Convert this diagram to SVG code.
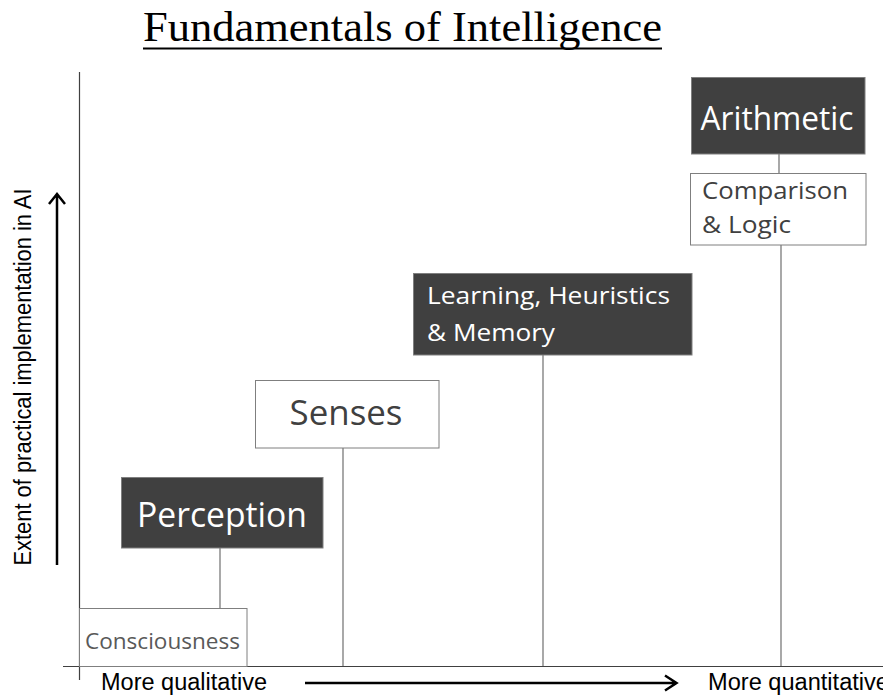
<svg xmlns="http://www.w3.org/2000/svg" width="883" height="700" viewBox="0 0 883 700">
<style>
.dark{fill:#404040;stroke:#7f7f7f;stroke-width:1}
.light{fill:#ffffff;stroke:#7f7f7f;stroke-width:1}
.conn{stroke:#6f6f6f;stroke-width:1.2;fill:none}
.axis{stroke:#404040;stroke-width:1.2;fill:none}
.arrow{stroke:#000;stroke-width:2.5;fill:none}
.wt{font-family:"Open Sans","DejaVu Sans",sans-serif;fill:#ffffff}
.gt{font-family:"Open Sans","DejaVu Sans",sans-serif;fill:#404040}
.lab{font-family:"Liberation Sans",Arial,sans-serif;font-size:23px;fill:#000}
</style>
<rect width="883" height="700" fill="#ffffff"/>
<g id="title">
<text x="143" y="41" font-family="Liberation Serif,'Times New Roman',serif" font-size="42" textLength="519" lengthAdjust="spacingAndGlyphs" fill="#000">Fundamentals of Intelligence</text>
<rect x="143" y="47.5" width="519" height="2" fill="#000"/>
</g>
<g id="connectors">
<line class="axis" x1="79.5" y1="72" x2="79.5" y2="680"/>
<line class="axis" x1="63" y1="666.5" x2="883" y2="666.5"/>
<line class="conn" x1="220" y1="548" x2="220" y2="609"/>
<line class="conn" x1="343" y1="448" x2="343" y2="666"/>
<line class="conn" x1="543" y1="355" x2="543" y2="666"/>
<line class="conn" x1="779" y1="154" x2="779" y2="173"/>
<line class="conn" x1="781" y1="245" x2="781" y2="666"/>
<path class="arrow" d="M57 565 L57 194 M49 204 L57 194 L65 204"/>
<path class="arrow" d="M305 683 L676 683 M665 675.5 L676.5 683 L665 690.5"/>
</g>
<g id="ylabel">
<text class="lab" transform="translate(31,377) rotate(-90)" text-anchor="middle" textLength="377" lengthAdjust="spacingAndGlyphs">Extent of practical implementation in AI</text>
</g>
<g id="xlabel-left">
<text class="lab" x="101" y="690" textLength="166" lengthAdjust="spacingAndGlyphs">More qualitative</text>
</g>
<g id="xlabel-right">
<text class="lab" x="708" y="690" textLength="181" lengthAdjust="spacingAndGlyphs">More quantitative</text>
</g>
<g id="consciousness">
<rect class="light" x="79.5" y="608.5" width="167.5" height="58"/>
<text class="gt" x="85" y="649" font-size="22" textLength="155" lengthAdjust="spacingAndGlyphs" style="fill:#595959">Consciousness</text>
</g>
<g id="perception">
<rect class="dark" x="121.5" y="477.5" width="201.5" height="70.5"/>
<text class="wt" x="222" y="527" font-size="35" text-anchor="middle" textLength="170" lengthAdjust="spacingAndGlyphs">Perception</text>
</g>
<g id="senses">
<rect class="light" x="255.5" y="380.5" width="183.5" height="67.5"/>
<text class="gt" x="346" y="425" font-size="34" text-anchor="middle" textLength="113" lengthAdjust="spacingAndGlyphs">Senses</text>
</g>
<g id="learning">
<rect class="dark" x="413.5" y="273.5" width="278.5" height="81.5"/>
<text class="wt" x="427" y="304" font-size="24" textLength="243" lengthAdjust="spacingAndGlyphs">Learning, Heuristics</text>
<text class="wt" x="427" y="341" font-size="24" textLength="128" lengthAdjust="spacingAndGlyphs">&amp; Memory</text>
</g>
<g id="arithmetic">
<rect class="dark" x="691.5" y="77.5" width="173.5" height="76.5"/>
<text class="wt" x="777" y="130" font-size="33" text-anchor="middle" textLength="153" lengthAdjust="spacingAndGlyphs">Arithmetic</text>
</g>
<g id="comparison">
<rect class="light" x="690.5" y="173.5" width="175.5" height="71.5"/>
<text class="gt" x="702" y="199" font-size="24" textLength="146" lengthAdjust="spacingAndGlyphs">Comparison</text>
<text class="gt" x="702" y="233" font-size="24" textLength="89" lengthAdjust="spacingAndGlyphs">&amp; Logic</text>
</g>
</svg>
